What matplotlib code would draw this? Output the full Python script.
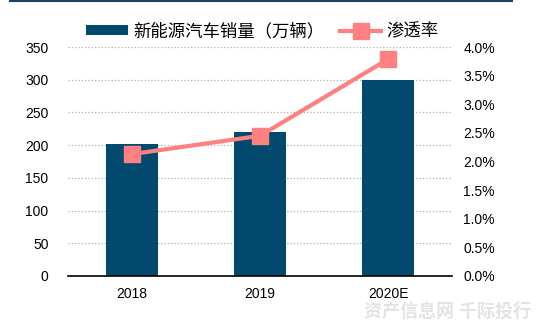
import matplotlib
matplotlib.use('Agg')
import matplotlib.pyplot as plt
from matplotlib.ticker import FuncFormatter

plt.rcParams['font.family'] = ['Liberation Sans', 'Noto Sans CJK SC', 'DejaVu Sans']

# Datos
anios = ['2018', '2019', '2020E']
ventas = [202, 220, 300]  # 新能源汽车销量（万辆）
penetracion = [2.13, 2.45, 3.79]  # 渗透率 (%)

color_barra = '#014a6e'
color_linea = '#ff8080'

fig = plt.figure(figsize=(5.39, 3.25), dpi=100)
ax = fig.add_axes([0.126, 0.151, 0.713, 0.704])
ax2 = ax.twinx()

x = range(len(anios))
ax.bar(x, ventas, width=0.41, color=color_barra, zorder=2, label='新能源汽车销量（万辆）')
ax2.plot(x, penetracion, '-s', color=color_linea, lw=3, markersize=11, label='渗透率')

ax.set_xlim(-0.5, 2.5)
ax.set_ylim(0, 350)
ax.set_yticks(range(0, 351, 50))
ax2.set_ylim(0, 4.0)
ax2.set_yticks([i * 0.5 for i in range(9)])
ax2.yaxis.set_major_formatter(FuncFormatter(lambda v, p: f'{v:.1f}%'))
ax.set_xticks(list(x))
ax.set_xticklabels(anios)

ax.grid(axis='y', linestyle=':', color='#b0b0b0', lw=0.9, zorder=0)
for a in (ax, ax2):
    for s in ['top', 'right', 'left', 'bottom']:
        a.spines[s].set_visible(False)
    a.tick_params(length=0, labelsize=10)
ax.spines['bottom'].set_visible(True)
ax.spines['bottom'].set_linewidth(1.2)
ax.tick_params(axis='y', pad=14)
ax.tick_params(axis='x', pad=8)
ax2.tick_params(axis='y', pad=8)

h1, l1 = ax.get_legend_handles_labels()
h2, l2 = ax2.get_legend_handles_labels()
fig.legend(h1 + h2, l1 + l2, loc='center', bbox_to_anchor=(0.487, 0.905), ncol=2,
           frameon=False, fontsize=12.5, handlelength=2.4, handleheight=0.5,
           columnspacing=0.9, handletextpad=0.3)

# Línea superior y marca de agua
fig.add_artist(plt.Line2D([0.019, 0.95], [0.997, 0.997], color='#1f3f5f', lw=1.5))
fig.text(0.985, 0.04, '资产信息网 千际投行', ha='right', va='center', fontsize=13,
         color='#e3e3e3', fontweight='bold')

fig.savefig('out.png', dpi=100)
